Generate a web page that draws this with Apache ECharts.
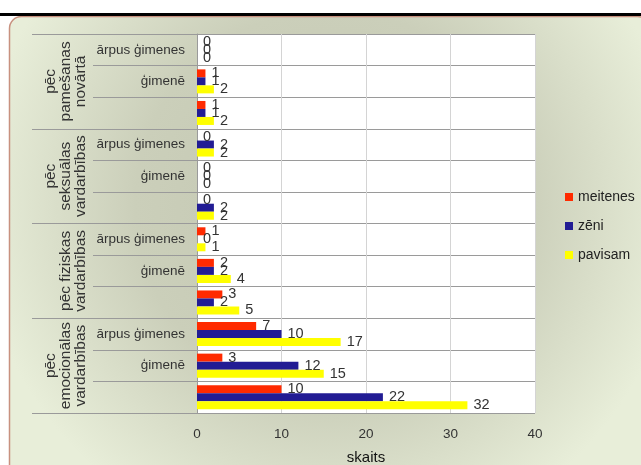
<!DOCTYPE html>
<html>
<head>
<meta charset="utf-8">
<script src="https://cdn.jsdelivr.net/npm/echarts@6/dist/echarts.min.js"></script>
<style>
html,body{margin:0;padding:0;background:#fff;}
#chart{width:641px;height:465px;}
</style>
</head>
<body>
<div id="chart"></div>
<script>
// Rows listed bottom to top
var rowLabels = ['', 'ģimenē', 'ārpus ģimenes', '', 'ģimenē', 'ārpus ģimenes', '', 'ģimenē', 'ārpus ģimenes', '', 'ģimenē', 'ārpus ģimenes'];
var groupLabels = ['pēc\nemocionālas\nvardarbības', 'pēc fiziskas\nvardarbības', 'pēc\nseksuālas\nvardarbības', 'pēc\npamešanas\nnovārtā'];
var seriesNames = ['meitenes', 'zēni', 'pavisam'];
var meitenes = [10, 3, 7, 3, 2, 1, 0, 0, 0, 1, 1, 0];
var zeni     = [22, 12, 10, 2, 2, 0, 2, 0, 2, 1, 1, 0];
var pavisam  = [32, 15, 17, 5, 4, 1, 2, 0, 2, 2, 2, 0];
var xTicks = { min: 0, max: 40, interval: 10 };
var xTitle = 'skaits';

var colors = ['#FF2A00', '#221C94', '#FFFF00'];
var FONT = '"Liberation Sans", Arial, sans-serif';

function mkSeries(name, data, color) {
  return {
    name: name, type: 'bar', data: data, barWidth: 8, barGap: '0%',
    itemStyle: { color: color },
    label: { show: true, position: 'right', distance: 6, fontSize: 14.5, color: '#333', fontFamily: FONT },
    emphasis: { disabled: true }
  };
}

var chart = echarts.init(document.getElementById('chart'), null, { renderer: 'canvas' });
chart.setOption({
  animation: false,
  textStyle: { fontFamily: FONT },
  graphic: [
    { type: 'rect', z: -10, shape: { x: 9.5, y: 16.5, width: 640, height: 470, r: 12 },
      style: { fill: { type: 'radial', x: 0.5, y: 0.4, r: 0.75, colorStops: [
        { offset: 0, color: '#c2c6b1' }, { offset: 0.55, color: '#cbcfba' }, { offset: 1, color: '#e8eed9' } ] },
        stroke: '#c8917f', lineWidth: 1.5 } },
    { type: 'rect', z: -9, shape: { x: 0, y: 13, width: 641, height: 3 }, style: { fill: '#000' } }
  ],
  grid: { left: 197, right: 106, top: 34, bottom: 52, show: true, backgroundColor: '#fff', borderWidth: 0,
          containLabel: false, outerBoundsMode: 'none' },
  legend: {
    orient: 'vertical', left: 560, top: 185, itemWidth: 8, itemHeight: 8, itemGap: 15, icon: 'rect',
    data: seriesNames,
    textStyle: { fontSize: 14, color: '#222', fontFamily: FONT }
  },
  xAxis: {
    type: 'value', min: xTicks.min, max: xTicks.max, interval: xTicks.interval,
    name: xTitle, nameLocation: 'middle', nameGap: 37,
    nameTextStyle: { fontSize: 15, color: '#111', fontFamily: FONT },
    axisLine: { show: false }, axisTick: { show: false },
    axisLabel: { fontSize: 13.5, color: '#333', margin: 14, fontFamily: FONT },
    splitLine: { show: true, lineStyle: { color: '#d4d4d4', width: 1 } }
  },
  yAxis: [
    {
      type: 'category', data: rowLabels, position: 'left',
      axisLine: { show: true, lineStyle: { color: '#9a9a9a' } },
      axisTick: { show: true, length: 104, lineStyle: { color: '#9a9a9a' } },
      axisLabel: { interval: 0, fontSize: 13.5, color: '#333', margin: 12, fontFamily: FONT },
      splitLine: { show: true, interval: 0, lineStyle: { color: '#9a9a9a', width: 1 } }
    },
    {
      type: 'category', data: groupLabels, position: 'left', offset: 0,
      axisLine: { show: false },
      axisTick: { show: true, length: 165, lineStyle: { color: '#9a9a9a' } },
      axisLabel: { interval: 0, rotate: 90, fontSize: 15.5, lineHeight: 15, color: '#333', margin: 109, fontFamily: FONT },
      splitLine: { show: false }
    }
  ],
  series: [
    mkSeries(seriesNames[0], meitenes, colors[0]),
    mkSeries(seriesNames[1], zeni, colors[1]),
    mkSeries(seriesNames[2], pavisam, colors[2])
  ]
});
</script>
</body>
</html>
